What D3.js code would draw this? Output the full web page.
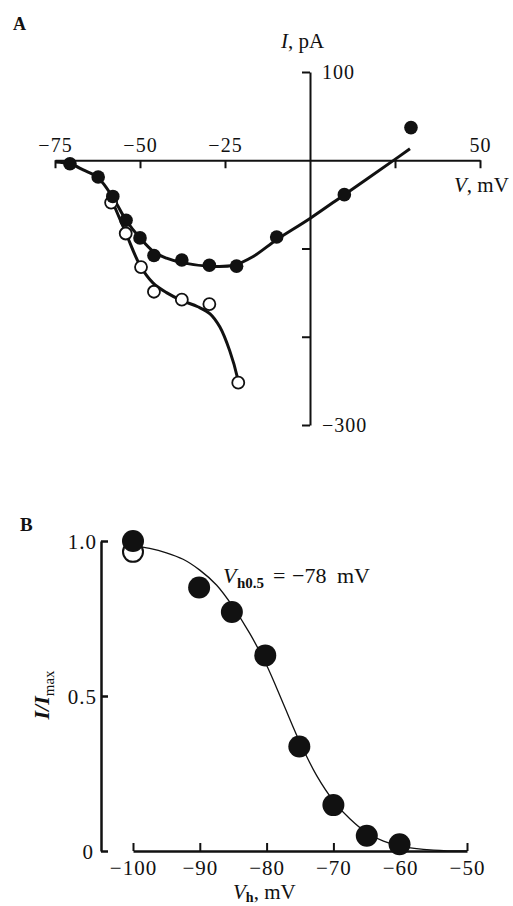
<!DOCTYPE html>
<html>
<head>
<meta charset="utf-8">
<script src="https://cdn.jsdelivr.net/npm/d3@7"></script>
<style>
  body { margin: 0; background: #fff; }
  svg { display: block; }
  svg text { font-family: "Liberation Serif", "DejaVu Serif", serif; }
</style>
</head>
<body>
<script>
// ---- panel A : I-V relation ----
const aTicksV = [-75, -50, -25, 25, 50];
const aTicksI = [100, -100, -200, -300];
const aFilledV = [-70.6, -62.3, -58.0, -54.1, -50.0, -45.9, -37.7, -29.6, -21.6, -9.8, 10.1, 29.7];
const aFilledI = [-4, -19, -41, -68, -88, -108, -113, -119, -120, -87, -39, 37];
const aOpenV = [-58.5, -54.2, -49.7, -45.9, -37.7, -29.6, -21.1];
const aOpenI = [-48, -83, -121, -149, -158, -163, -252];
// fitted lines
const aFitFilledV = [-75, -70.6, -66.7, -62.3, -58, -54.1, -50, -45.9, -42.2, -37.7, -29.6, -22.5, -16.7, -9.8, 0, 10.1, 25, 29.4];
const aFitFilledI = [-2, -4, -11, -20, -42, -68, -88, -104, -111, -116, -120, -119, -109, -90, -66, -39, 1, 13];
const aFitOpenV = [-58.3, -54.1, -50, -46.2, -42.2, -37.7, -33, -29.4, -26.5, -23.6, -21.3];
const aFitOpenI = [-45, -83, -119, -139, -150, -159, -166, -174, -189, -216, -247];

// ---- panel B : steady-state inactivation ----
const bTicksV = [-100, -90, -80, -70, -60, -50];
const bTicksY = [0, 0.5, 1];
const bFilledV = [-100, -90.1, -85.2, -80.2, -75.1, -70, -65, -60.1];
const bFilled = [1.0, 0.85, 0.771, 0.631, 0.337, 0.148, 0.049, 0.022];
const bOpenV = [-100];
const bOpen = [0.965];
const bFitV = [-100, -97.5, -95, -92.5, -90, -87.5, -85, -82.5, -80, -77.5, -75, -72.5, -70, -67.5, -65, -62.5, -60, -55, -50];
const bFit = [0.984, 0.976, 0.962, 0.941, 0.906, 0.858, 0.787, 0.701, 0.599, 0.475, 0.35, 0.243, 0.162, 0.103, 0.059, 0.032, 0.016, 0.003, 0];

const width = 513, height = 906;
const ink = "#111";
const serif = "'Liberation Serif', 'DejaVu Serif', serif";

const svg = d3.select("body").append("svg")
    .attr("width", width)
    .attr("height", height);

// ================= A =================
const xA = d3.scaleLinear().domain([-75, 50]).range([55, 480]);
const yA = d3.scaleLinear().domain([-300, 100]).range([425, 72]);

const gA = svg.append("g");

const axA = gA.append("g")
    .attr("transform", "translate(0," + yA(0) + ")")
    .call(d3.axisBottom(xA).tickValues(aTicksV).tickSize(8).tickSizeOuter(0))
    .attr("font-family", serif);
axA.select(".domain").attr("stroke", ink).attr("stroke-width", 2);
axA.selectAll("line").attr("stroke", ink).attr("stroke-width", 2);
axA.selectAll("text")
    .attr("y", -8).attr("dy", 0)
    .style("font-size", "20px").style("letter-spacing", "1px")
    .attr("fill", ink)
    .text(d => (d === 25) ? "" : d3.format("")(d));

const ayA = gA.append("g")
    .attr("transform", "translate(" + xA(0) + ",0)")
    .call(d3.axisLeft(yA).tickValues(aTicksI).tickSize(8).tickSizeOuter(0))
    .attr("font-family", serif);
ayA.select(".domain").attr("stroke", ink).attr("stroke-width", 2);
ayA.selectAll("line").attr("stroke", ink).attr("stroke-width", 2);
ayA.selectAll("text")
    .attr("x", 12).attr("text-anchor", "start").attr("dy", "0.34em")
    .style("font-size", "20px").style("letter-spacing", "1px")
    .attr("fill", ink)
    .text(d => (d === 100 || d === -300) ? d3.format("")(d) : "");

const lineA = d3.line().x(d => xA(d[0])).y(d => yA(d[1])).curve(d3.curveCatmullRom);

gA.append("path")
    .datum(d3.zip(aFitOpenV, aFitOpenI))
    .attr("d", lineA)
    .attr("fill", "none").attr("stroke", ink).attr("stroke-width", 3);
gA.append("path")
    .datum(d3.zip(aFitFilledV, aFitFilledI))
    .attr("d", lineA)
    .attr("fill", "none").attr("stroke", ink).attr("stroke-width", 3);

gA.selectAll(".open").data(d3.zip(aOpenV, aOpenI)).enter().append("circle")
    .attr("cx", d => xA(d[0])).attr("cy", d => yA(d[1])).attr("r", 6)
    .attr("fill", "#fff").attr("stroke", ink).attr("stroke-width", 1.8);
gA.selectAll(".filled").data(d3.zip(aFilledV, aFilledI)).enter().append("circle")
    .attr("cx", d => xA(d[0])).attr("cy", d => yA(d[1])).attr("r", 6.8)
    .attr("fill", ink);

gA.append("text").attr("x", 13).attr("y", 30)
    .style("font-size", "18px").style("font-weight", "bold").attr("fill", ink).text("A");

const ipa = gA.append("text").attr("x", 281).attr("y", 48)
    .style("font-size", "21px").attr("fill", ink);
ipa.append("tspan").style("font-style", "italic").text("I");
ipa.append("tspan").text(", pA");

const vmv = gA.append("text").attr("x", 454).attr("y", 192)
    .style("font-size", "21px").attr("fill", ink);
vmv.append("tspan").style("font-style", "italic").text("V");
vmv.append("tspan").text(", mV");

// ================= B =================
const xB = d3.scaleLinear().domain([-100, -50]).range([133, 467]);
const yB = d3.scaleLinear().domain([0, 1]).range([851, 541]);

const gB = svg.append("g");

const axB = gB.append("g")
    .attr("transform", "translate(0," + yB(0) + ")")
    .call(d3.axisBottom(xB).tickValues(bTicksV).tickSize(-8).tickSizeOuter(0))
    .attr("font-family", serif);
axB.select(".domain").attr("stroke", ink).attr("stroke-width", 2.5);
axB.selectAll("line").attr("stroke", ink).attr("stroke-width", 2);
axB.selectAll("text")
    .attr("y", 24).attr("dy", 0)
    .style("font-size", "21px").style("letter-spacing", "1px")
    .attr("fill", ink);

const ayB = gB.append("g")
    .attr("transform", "translate(101,0)")
    .call(d3.axisLeft(yB).tickValues(bTicksY).tickSize(-7).tickSizeOuter(0)
        .tickFormat(d => d === 0 ? "0" : d3.format(".1f")(d)))
    .attr("font-family", serif);
ayB.select(".domain").attr("stroke", ink).attr("stroke-width", 2.5);
ayB.selectAll("line").attr("stroke", ink).attr("stroke-width", 2.5);
ayB.selectAll("text")
    .attr("x", d => d === 0 ? -7 : -4).attr("dy", d => d === 0 ? "0.34em" : "0.38em")
    .style("font-size", "21px").style("letter-spacing", "1px")
    .attr("fill", ink);

const lineB = d3.line().x(d => xB(d[0])).y(d => yB(d[1])).curve(d3.curveCatmullRom);
gB.append("path")
    .datum(d3.zip(bFitV, bFit))
    .attr("d", lineB)
    .attr("fill", "none").attr("stroke", ink).attr("stroke-width", 1.3);

gB.selectAll(".open").data(d3.zip(bOpenV, bOpen)).enter().append("circle")
    .attr("cx", d => xB(d[0])).attr("cy", d => yB(d[1])).attr("r", 10)
    .attr("fill", "#fff").attr("stroke", ink).attr("stroke-width", 2);
gB.selectAll(".filled").data(d3.zip(bFilledV, bFilled)).enter().append("circle")
    .attr("cx", d => xB(d[0])).attr("cy", d => yB(d[1])).attr("r", 11)
    .attr("fill", ink);

gB.append("text").attr("x", 20).attr("y", 531)
    .style("font-size", "19px").style("font-weight", "bold").attr("fill", ink).text("B");

// V_h0.5 = -78 mV
const ann = gB.append("text").attr("y", 583).style("font-size", "22px").attr("fill", ink);
ann.append("tspan").attr("x", 223).style("font-style", "italic").text("V");
ann.append("tspan").attr("x", 237).attr("dy", 5).style("font-size", "15px").style("font-weight", "bold").text("h0.5");
ann.append("tspan").attr("x", 273).attr("dy", -5).text("=");
ann.append("tspan").attr("x", 292).text("−78");
ann.append("tspan").attr("x", 337).text("mV");

// y label I/I_max
const ylab = gB.append("text")
    .attr("transform", "translate(49,695) rotate(-90)")
    .attr("text-anchor", "middle")
    .style("font-size", "22px").attr("fill", ink);
ylab.append("tspan").style("font-style", "italic").style("font-weight", "bold").text("I/I");
ylab.append("tspan").attr("dy", 5).style("font-size", "15px").text("max");

// x label V_h, mV (cut by the lower edge in the original scan)
const xlab = gB.append("text").attr("x", 233).attr("y", 899)
    .style("font-size", "21px").attr("fill", ink);
xlab.append("tspan").style("font-style", "italic").text("V");
xlab.append("tspan").attr("dy", 3).style("font-size", "14px").style("font-weight", "bold").text("h");
xlab.append("tspan").attr("dy", -3).text(", mV");
</script>
</body>
</html>
